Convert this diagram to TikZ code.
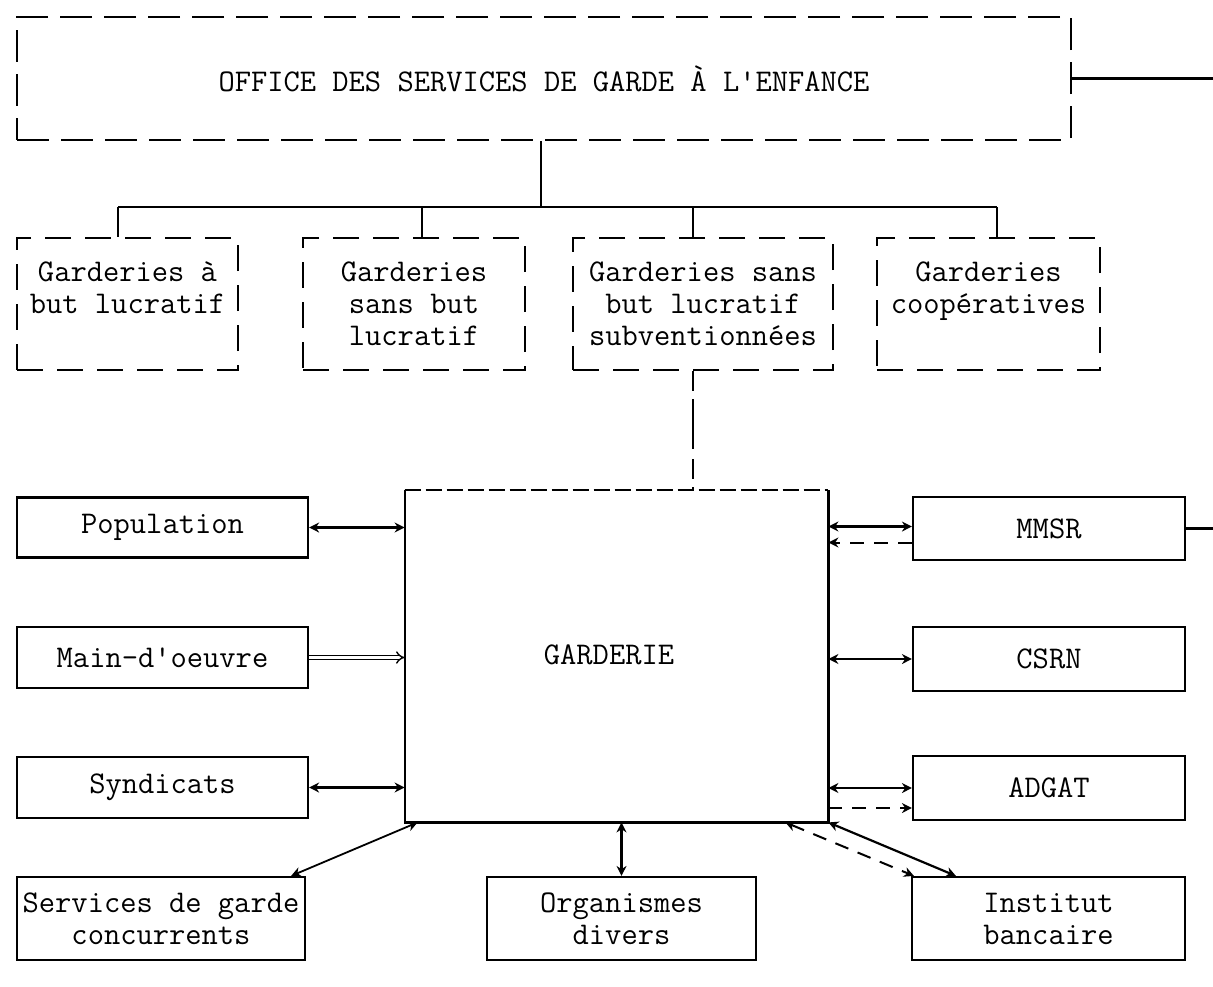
\documentclass[tikz,border=0pt]{standalone}
\usepackage{fontspec}
\usetikzlibrary{arrows.meta}
\begin{document}
\begin{tikzpicture}[x=0.5pt,y=-0.5pt,
  every node/.style={font=\ttfamily\fontsize{15.8}{16}\selectfont, inner sep=0pt},
  solidbox/.style={draw, line width=1.1pt, rectangle},
  bigdbox/.style={draw, line width=1.2pt, dash pattern=on 16pt off 6pt},
  smalldbox/.style={draw, line width=1.2pt, dash pattern=on 13pt off 7pt, align=center},
  link/.style={line width=1.1pt},
  dlink/.style={line width=1pt, dash pattern=on 7pt off 5pt},
  biarrow/.style={{Stealth[length=5pt,width=5pt]}-{Stealth[length=5pt,width=5pt]}},
  onearrow/.style={-{Stealth[length=5pt,width=5pt]}}
]
\useasboundingbox (0,0) rectangle (1213,986);

% top office
\node[bigdbox, minimum width=527pt, minimum height=61.5pt] (osg) at (544,78.5)
  {OFFICE DES SERVICES DE GARDE À L\textquotesingle ENFANCE};

% four categories
\node[smalldbox, minimum width=110.5pt, minimum height=66pt] (b1) at (127.5,304) {Garderies à\\but lucratif\\~};
\node[smalldbox, minimum width=111pt, minimum height=66pt] (b2) at (414,304) {Garderies\\sans but\\lucratif};
\node[smalldbox, minimum width=130pt, minimum height=66pt] (b3) at (703,304) {Garderies sans\\but lucratif\\subventionnées};
\node[smalldbox, minimum width=111.5pt, minimum height=66pt] (b4) at (988.5,304) {Garderies\\coopératives\\~};

% tree
\coordinate (t) at (541,207);
\coordinate (j1) at (118,207);
\coordinate (j2) at (422,207);
\coordinate (j3) at (693,207);
\coordinate (j4) at (997,207);
\coordinate (edge) at (1213,0);
\draw[link] (osg.south -| t) -- (t);
\draw[link] (j1) -- (j4);
\draw[link] (j1) -- (j1 |- b1.north);
\draw[link] (j2) -- (j2 |- b2.north);
\draw[link] (j3) -- (j3 |- b3.north);
\draw[link] (j4) -- (j4 |- b4.north);
\draw[link] (osg.east) -- (osg.east -| edge);

% garderie
\node[minimum width=211.5pt, minimum height=166pt] (g) at (616.5,656) {};
\node (gl) at (609,655) {GARDERIE};
\draw[line width=1.1pt] (g.north west) -- (g.south west) -- (g.south east) -- (g.north east);
\draw[line width=1.1pt, dash pattern=on 8pt off 2.5pt] (g.north west) -- (g.north east);
\draw[line width=1.2pt, dash pattern=on 10pt off 4pt on 25pt off 5pt] (j3 |- b3.south) -- (j3 |- g.north);

% left boxes
\node[solidbox, minimum width=145.5pt, minimum height=30pt] (pop) at (162.5,527.5) {Population};
\node[solidbox, minimum width=145.5pt, minimum height=30.5pt] (mo) at (162.5,657.5) {Main-d\textquotesingle oeuvre};
\node[solidbox, minimum width=145.5pt, minimum height=30.5pt] (syn) at (162.5,787.5) {Syndicats};

% right boxes
\node[solidbox, minimum width=136pt, minimum height=31.5pt] (mmsr) at (1049,528.5) {MMSR};
\node[solidbox, minimum width=136pt, minimum height=32pt] (csrn) at (1049,659) {CSRN};
\node[solidbox, minimum width=136pt, minimum height=32pt] (adgat) at (1049,788) {ADGAT};

% bottom boxes
\node[solidbox, minimum width=144pt, minimum height=41.5pt, align=center] (svc) at (161,918.5) {Services de garde\\concurrents};
\node[solidbox, minimum width=134.5pt, minimum height=41.5pt, align=center] (org) at (621.5,918.5) {Organismes\\divers};
\node[solidbox, minimum width=136.5pt, minimum height=41.5pt, align=center] (inst) at (1048.5,918.5) {Institut\\bancaire};

% connectors left
\draw[link, biarrow] (pop.east) -- (pop.east -| g.west);
\draw[line width=0.7pt, double, double distance=1.4pt, -{Implies}] (mo.east) -- (mo.east -| g.west);
\draw[link, biarrow] (syn.east) -- (syn.east -| g.west);

% connectors right
\draw[link, biarrow] ([yshift=1pt]mmsr.west -| g.east) -- ([yshift=1pt]mmsr.west);
\draw[dlink, onearrow] ([yshift=-7pt]mmsr.west) -- ([yshift=-7pt]mmsr.west -| g.east);
\draw[link] (mmsr.east) -- (mmsr.east -| edge);
\draw[link, biarrow] (csrn.west -| g.east) -- (csrn.west);
\draw[link, biarrow] (adgat.west -| g.east) -- (adgat.west);
\draw[dlink, onearrow] ([yshift=-10pt]adgat.west -| g.east) -- ([yshift=-10pt]adgat.west);

% connectors bottom
\draw[line width=0.9pt, biarrow] ([xshift=6.5pt]g.south west) -- ([xshift=-7.5pt]svc.north east);
\draw[link, biarrow] (org.north) -- (org.north |- g.south);
\draw[link, biarrow] (g.south east) -- ([xshift=22.5pt]inst.north west);
\draw[dlink, biarrow] ([xshift=-21.5pt]g.south east) -- ([xshift=1.5pt]inst.north west);
\end{tikzpicture}
\end{document}
